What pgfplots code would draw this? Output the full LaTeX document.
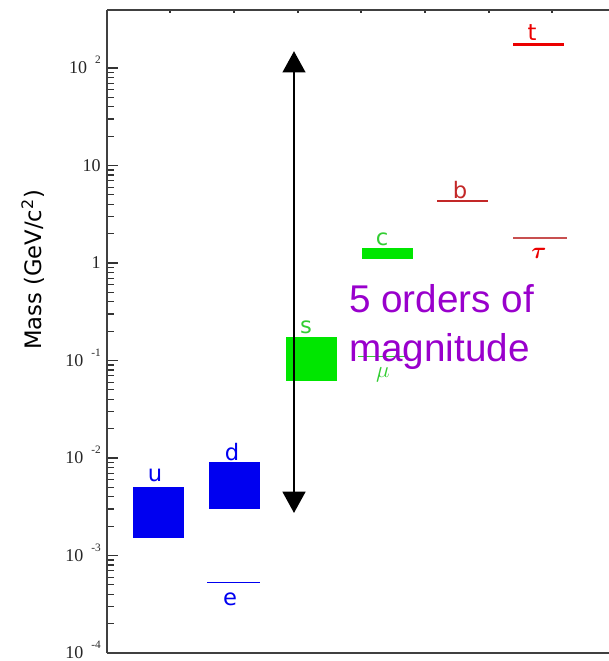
\documentclass[border=0pt]{standalone}
\usepackage{amsmath}
\usepackage{pgfplots}
\pgfplotsset{compat=1.18}
\usepackage{fontspec}
\setmainfont{Liberation Serif}
\newfontfamily\dv{DejaVu Sans}
\newfontfamily\ls{Liberation Sans}
\usetikzlibrary{arrows.meta}
\definecolor{qblue}{RGB}{0,0,240}
\definecolor{qgreen}{RGB}{0,230,0}
\definecolor{lgreen}{RGB}{50,205,50}
\definecolor{qred}{RGB}{235,0,0}
\definecolor{bred}{RGB}{195,40,40}
\definecolor{tred}{RGB}{200,80,80}
\definecolor{purp}{RGB}{153,0,204}
\newcommand{\tl}[1]{10\hspace{6pt}\smash{\raisebox{7.5pt}{\fontsize{8.5}{8.5}\selectfont #1}}}
\begin{document}
\begin{tikzpicture}
\begin{axis}[at={(80.25pt,6pt)}, anchor=south west, scale only axis,
  width=407.25pt, height=482.25pt,
  ymode=log, xmin=107, xmax=650, ymin=1e-4, ymax=394,
  ytick={1e-4,1e-3,1e-2,1e-1,1,10,100},
  yticklabels={\tl{-4},\tl{-3},\tl{-2},\tl{-1},{1\hspace{10.5pt}},{10\hspace{10.5pt}},\tl{2}},
  yticklabel style={anchor=east, inner sep=0pt, xshift=-4.5pt, font=\fontsize{13.5}{13.5}\selectfont, text=black!85},
  ytick pos=left, xtick pos=right,
  xtick={170,234,298,361,425,489,552}, xticklabels={},
  xtick style={/pgfplots/major tick length=2.5pt},
  axis x line*=box, axis y line*=left,
  tick align=inside, major tick length=8.5pt, minor tick length=5pt,
  axis line style={line width=1.2pt, black!75},
  every tick/.style={black!80, line width=0.9pt},
  clip=false]
% quarks (boxes)
\addplot[fill=qblue, draw=none] coordinates {(133,1.5e-3) (184,1.5e-3) (184,5.1e-3) (133,5.1e-3)} -- cycle;
\addplot[fill=qblue, draw=none] coordinates {(209,3.0e-3) (260,3.0e-3) (260,9.2e-3) (209,9.2e-3)} -- cycle;
\addplot[fill=qgreen, draw=none] coordinates {(286,0.061) (337,0.061) (337,0.176) (286,0.176)} -- cycle;
\addplot[fill=qgreen, draw=none] coordinates {(362,1.1) (413,1.1) (413,1.43) (362,1.43)} -- cycle;
% lines
\addplot[qblue, line width=1pt] coordinates {(207,5.3e-4) (260,5.3e-4)};
\addplot[lgreen, line width=0.8pt] coordinates {(358,0.11) (408,0.11)};
\addplot[bred, line width=1.8pt] coordinates {(437,4.3) (488,4.3)};
\addplot[qred, line width=2.2pt] coordinates {(513,176) (564,176)};
\addplot[tred, line width=1pt] coordinates {(513,1.8) (567,1.8)};
% arrow
\addplot[black, line width=2pt, {Triangle[width=17pt,length=16pt]}-{Triangle[width=17pt,length=16pt]}] coordinates {(294,149) (294,2.73e-3)};
% labels
\begin{scope}[every node/.style={anchor=base, inner sep=0pt, font=\dv\fontsize{17}{17}\selectfont}]
\node[text=qblue] at (axis cs:155,5.68e-3) {u};
\node[text=qblue] at (axis cs:232,9.5e-3) {d};
\node[text=qblue] at (axis cs:230,3.1e-4) {e};
\node[text=lgreen] at (axis cs:306,0.191) {s};
\node[text=lgreen] at (axis cs:382,1.53) {c};
\node[text=bred] at (axis cs:460,4.64) {b};
\node[text=qred] at (axis cs:532,193.7) {t};
\node[text=qred] at (axis cs:539,1.125) {$\boldsymbol{\tau}$};
\node[text=lgreen] at (axis cs:383,0.0662) {$\mu$};
\end{scope}
\node[anchor=base west, inner sep=0pt, text=purp, font=\ls\fontsize{29}{29}\selectfont] at (axis cs:349,0.314) {5 orders of};
\node[anchor=base west, inner sep=0pt, text=purp, font=\ls\fontsize{29}{29}\selectfont] at (axis cs:349,0.0966) {magnitude};
\end{axis}
\node[rotate=90, inner sep=0pt, font=\dv\fontsize{17}{17}\selectfont] at (24.75pt,293.25pt) {Mass (GeV/c\textsuperscript{2})};
\pgfresetboundingbox
\useasboundingbox (0,0) rectangle (456.75pt,495.75pt);
\end{tikzpicture}
\end{document}
